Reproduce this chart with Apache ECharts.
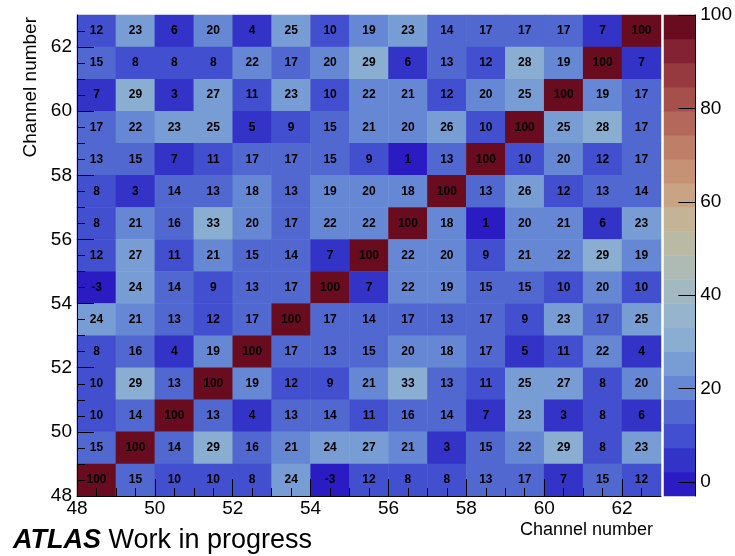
<!DOCTYPE html>
<html>
<head>
<meta charset="utf-8">
<script src="https://cdn.jsdelivr.net/npm/echarts@6/dist/echarts.min.js"></script>
<style>
html, body { margin: 0; padding: 0; background: #fff; }
#chart { width: 735px; height: 556px; }
</style>
</head>
<body>
<div id="chart"></div>
<script>
// channel numbers, same on both axes
const channels = [48, 49, 50, 51, 52, 53, 54, 55, 56, 57, 58, 59, 60, 61, 62]

const corrRows = [
  [12, 23, 6, 20, 4, 25, 10, 19, 23, 14, 17, 17, 17, 7, 100],   // 62
  [15, 8, 8, 8, 22, 17, 20, 29, 6, 13, 12, 28, 19, 100, 7],     // 61
  [7, 29, 3, 27, 11, 23, 10, 22, 21, 12, 20, 25, 100, 19, 17],  // 60
  [17, 22, 23, 25, 5, 9, 15, 21, 20, 26, 10, 100, 25, 28, 17],  // 59
  [13, 15, 7, 11, 17, 17, 15, 9, 1, 13, 100, 10, 20, 12, 17],   // 58
  [8, 3, 14, 13, 18, 13, 19, 20, 18, 100, 13, 26, 12, 13, 14],  // 57
  [8, 21, 16, 33, 20, 17, 22, 22, 100, 18, 1, 20, 21, 6, 23],   // 56
  [12, 27, 11, 21, 15, 14, 7, 100, 22, 20, 9, 21, 22, 29, 19],  // 55
  [-3, 24, 14, 9, 13, 17, 100, 7, 22, 19, 15, 15, 10, 20, 10],  // 54
  [24, 21, 13, 12, 17, 100, 17, 14, 17, 13, 17, 9, 23, 17, 25], // 53
  [8, 16, 4, 19, 100, 17, 13, 15, 20, 18, 17, 5, 11, 22, 4],    // 52
  [10, 29, 13, 100, 19, 12, 9, 21, 33, 13, 11, 25, 27, 8, 20],  // 51
  [10, 14, 100, 13, 4, 13, 14, 11, 16, 14, 7, 23, 3, 8, 6],     // 50
  [15, 100, 14, 29, 16, 21, 24, 27, 21, 3, 15, 22, 29, 8, 23],  // 49
  [100, 15, 10, 10, 8, 24, -3, 12, 8, 8, 13, 17, 7, 15, 12]     // 48
]

// colour levels of the palette (20 bands from -3 to 100)
const levels = [-3, 2.15, 7.3, 12.45, 17.6, 22.75, 27.9, 33.05, 38.2, 43.35, 48.5,
                53.65, 58.8, 63.95, 69.1, 74.25, 79.4, 84.55, 89.7, 94.85, 100]
const bandColors = ['#2b1bc3', '#3333c8', '#4250d0', '#5068d0', '#6688d4', '#789dd5', '#8aaed2',
                    '#96b4cc', '#a2b9c2', '#aebbb4', '#bab9a4', '#c4b394', '#c8a484', '#c69276',
                    '#be7e68', '#b4685a', '#a6504c', '#963a40', '#822232', '#6a0c20']

// tick labels
const channelTicks = [48, 50, 52, 54, 56, 58, 60, 62]
const channelMinorTicks = [48.5, 49, 49.5, 50.5, 51, 51.5, 52.5, 53, 53.5, 54.5, 55, 55.5,
                           56.5, 57, 57.5, 58.5, 59, 59.5, 60.5, 61, 61.5, 62.5]
const zTicks = [0, 20, 40, 60, 80, 100]

const FONT = '"Liberation Sans", Arial, Helvetica, sans-serif'

let cells = []
corrRows.forEach(function (row, r) {
  let yi = channels.length - 1 - r
  row.forEach(function (v, xi) {
    cells.push([xi, yi, v])
  })
})

let pieces = []
for (let i = 0; i < bandColors.length; i++) {
  let p = { gte: levels[i], color: bandColors[i] }
  if (i == bandColors.length - 1) p.lte = levels[i + 1]
  else p.lt = levels[i + 1]
  pieces.push(p)
}

// colour bar: one cell per band
let barCells = []
let bandIdx = []
for (let i = 0; i < bandColors.length; i++) {
  bandIdx.push(i)
  barCells.push([0, i, levels[i]])
}

// value axis used only for ticks/labels, drawn over the cells
function tickAxis(grid, pos, min, max, values, len, labels, margin) {
  return {
    type: 'value', gridIndex: grid, min: min, max: max, position: pos, z: 10,
    axisLine: { show: labels, onZero: false, lineStyle: { color: '#000', width: 1 } },
    axisTick: { show: true, inside: true, length: len, customValues: values, lineStyle: { color: '#000', width: 1 } },
    axisLabel: { show: labels, customValues: values, margin: margin, color: '#000', fontSize: 19, fontFamily: FONT },
    splitLine: { show: false }
  }
}

let chart = echarts.init(document.getElementById('chart'))

let option = {
  backgroundColor: '#fff',
  animation: false,
  textStyle: { fontFamily: FONT },
  grid: [
    { left: 77, top: 15, width: 584, height: 481 },
    { left: 664, top: 15, width: 33, height: 481 }
  ],
  visualMap: {
    show: false,
    type: 'piecewise',
    dimension: 2,
    seriesIndex: [0, 1],
    pieces: pieces
  },
  xAxis: [
    { type: 'category', gridIndex: 0, data: channels, show: false },
    tickAxis(0, 'bottom', 48, 63, channelTicks, 17, true, 3),
    tickAxis(0, 'bottom', 48, 63, channelMinorTicks, 8, false, 0),
    { type: 'category', gridIndex: 1, data: ['z'], show: false }
  ],
  yAxis: [
    { type: 'category', gridIndex: 0, data: channels, show: false },
    tickAxis(0, 'left', 48, 63, channelTicks, 17, true, 5),
    tickAxis(0, 'left', 48, 63, channelMinorTicks, 8, false, 0),
    { type: 'category', gridIndex: 1, data: bandIdx, show: false },
    tickAxis(1, 'right', -3, 100, zTicks, 17, true, 5)
  ],
  series: [
    {
      type: 'heatmap',
      xAxisIndex: 0,
      yAxisIndex: 0,
      data: cells,
      label: {
        show: true,
        color: '#000',
        fontSize: 12,
        fontWeight: 'bold',
        fontFamily: FONT,
        formatter: function (p) { return p.value[2] }
      },
      emphasis: { disabled: true }
    },
    {
      type: 'heatmap',
      xAxisIndex: 3,
      yAxisIndex: 3,
      data: barCells,
      emphasis: { disabled: true }
    }
  ],
  graphic: [
    {
      type: 'text', x: 31, y: 17, rotation: Math.PI / 2,
      style: { text: 'Channel number', fill: '#000', font: '19px ' + FONT, align: 'right', verticalAlign: 'middle' }
    },
    {
      type: 'text', x: 653, y: 530,
      style: { text: 'Channel number', fill: '#000', font: '18px ' + FONT, align: 'right', verticalAlign: 'middle' }
    },
    {
      type: 'text', x: 13, y: 541,
      style: {
        text: '{b|ATLAS} Work in progress',
        fill: '#000',
        font: '27px ' + FONT,
        verticalAlign: 'middle',
        rich: {
          b: { fontWeight: 'bold', fontStyle: 'italic', fontSize: 27, fontFamily: FONT, fill: '#000' }
        }
      }
    }
  ]
}

chart.setOption(option)
</script>
</body>
</html>
